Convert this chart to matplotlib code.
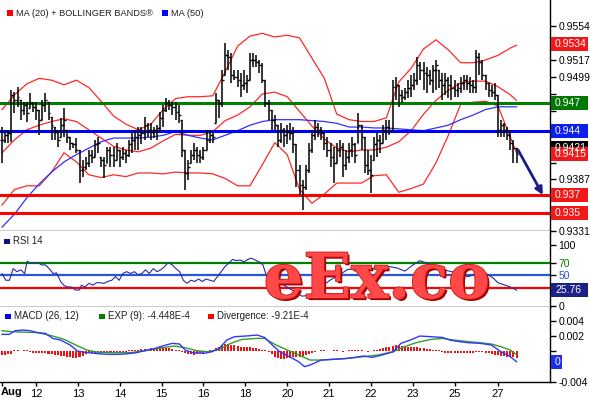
import numpy as np
import matplotlib
matplotlib.use('Agg')
import matplotlib.pyplot as plt
from matplotlib.patches import Rectangle
from matplotlib.transforms import IdentityTransform
import matplotlib.patheffects as pe

plt.rcParams['font.family'] = ['Liberation Sans', 'DejaVu Sans']

W, H = 590, 400

# 2h bars, prices in pips (x 1e-4)
highs = [9444, 9439, 9441, 9484, 9482, 9488, 9473, 9471, 9471, 9481,
         9471, 9471, 9463, 9473, 9481, 9471, 9455, 9444, 9441, 9454,
         9465, 9441, 9433, 9427, 9432, 9419, 9408, 9411, 9419, 9419,
         9430, 9433, 9411, 9411, 9422, 9422, 9422, 9427, 9419, 9422,
         9419, 9430, 9438, 9441, 9444, 9444, 9455, 9448, 9448, 9444,
         9446, 9460, 9468, 9476, 9473, 9471, 9471, 9468, 9452, 9419,
         9408, 9419, 9427, 9422, 9419, 9422, 9441, 9441, 9439, 9481,
         9473, 9506, 9535, 9528, 9525, 9506, 9506, 9503, 9506, 9501,
         9525, 9525, 9522, 9517, 9514, 9495, 9473, 9463, 9457, 9446,
         9448, 9443, 9446, 9448, 9444, 9425, 9403, 9386, 9403, 9427,
         9441, 9452, 9448, 9444, 9438, 9433, 9427, 9422, 9427, 9430,
         9427, 9419, 9427, 9433, 9427, 9459, 9446, 9433, 9419, 9414,
         9433, 9438, 9435, 9446, 9452, 9452, 9495, 9499, 9490, 9484,
         9487, 9495, 9501, 9503, 9520, 9515, 9515, 9509, 9506, 9512,
         9517, 9506, 9503, 9503, 9499, 9501, 9495, 9492, 9499, 9501,
         9501, 9498, 9495, 9528, 9525, 9517, 9501, 9492, 9490, 9492,
         9479, 9452, 9448, 9444, 9441, 9430, 9421]
lows = [9405, 9427, 9427, 9428, 9459, 9466, 9452, 9457, 9450, 9465,
        9460, 9452, 9435, 9452, 9460, 9452, 9430, 9430, 9422, 9433,
        9433, 9427, 9419, 9421, 9416, 9383, 9390, 9397, 9401, 9405,
        9411, 9416, 9401, 9389, 9405, 9401, 9401, 9408, 9401, 9408,
        9405, 9411, 9416, 9419, 9419, 9425, 9430, 9433, 9430, 9432,
        9430, 9438, 9444, 9460, 9463, 9457, 9452, 9448, 9411, 9375,
        9386, 9405, 9408, 9405, 9405, 9408, 9419, 9427, 9427, 9448,
        9454, 9466, 9501, 9506, 9492, 9495, 9488, 9477, 9484, 9481,
        9495, 9509, 9509, 9503, 9492, 9466, 9452, 9441, 9441, 9422,
        9427, 9422, 9425, 9430, 9416, 9379, 9370, 9354, 9375, 9394,
        9416, 9430, 9433, 9430, 9419, 9411, 9401, 9383, 9405, 9411,
        9390, 9397, 9405, 9411, 9405, 9427, 9419, 9394, 9392, 9372,
        9408, 9411, 9416, 9427, 9430, 9435, 9441, 9473, 9466, 9470,
        9473, 9476, 9477, 9484, 9490, 9495, 9484, 9481, 9490, 9481,
        9484, 9487, 9473, 9479, 9476, 9473, 9477, 9477, 9481, 9484,
        9484, 9481, 9481, 9481, 9501, 9495, 9484, 9477, 9477, 9473,
        9433, 9433, 9433, 9430, 9419, 9405, 9405]
closes = [9430, 9435, 9438, 9479, 9473, 9477, 9463, 9468, 9459, 9470,
          9466, 9463, 9452, 9468, 9473, 9459, 9446, 9439, 9430, 9446,
          9452, 9433, 9427, 9425, 9419, 9397, 9401, 9405, 9414, 9411,
          9425, 9427, 9408, 9403, 9419, 9414, 9408, 9419, 9411, 9416,
          9414, 9425, 9430, 9433, 9435, 9438, 9446, 9441, 9439, 9441,
          9443, 9454, 9463, 9470, 9468, 9466, 9460, 9457, 9419, 9394,
          9401, 9414, 9419, 9414, 9411, 9419, 9430, 9435, 9433, 9473,
          9470, 9495, 9522, 9520, 9501, 9499, 9495, 9490, 9492, 9495,
          9517, 9517, 9515, 9512, 9495, 9470, 9463, 9452, 9446, 9430,
          9441, 9435, 9439, 9438, 9425, 9397, 9381, 9379, 9397, 9419,
          9435, 9444, 9441, 9438, 9427, 9419, 9411, 9405, 9419, 9422,
          9403, 9411, 9419, 9425, 9414, 9446, 9433, 9403, 9397, 9392,
          9425, 9430, 9427, 9441, 9444, 9441, 9488, 9490, 9479, 9477,
          9482, 9487, 9490, 9495, 9512, 9506, 9503, 9501, 9495, 9506,
          9512, 9495, 9490, 9495, 9490, 9487, 9484, 9487, 9492, 9495,
          9492, 9490, 9488, 9520, 9515, 9501, 9492, 9484, 9482, 9479,
          9441, 9446, 9441, 9435, 9427, 9421, 9415]

# bollinger bands + MA(50), read every 4 bars
band_idx = list(range(0, 165, 4)) + [166]
upper = [9463, 9479, 9491, 9497, 9495, 9490, 9495, 9487, 9472, 9456,
         9447, 9441, 9447, 9463, 9475, 9477, 9477, 9478, 9504, 9532,
         9543, 9546, 9542, 9544, 9541, 9519, 9497, 9458, 9452, 9450,
         9450, 9454, 9493, 9508, 9529, 9539, 9528, 9514, 9514, 9517,
         9522, 9530, 9533]
middle = [9416, 9430, 9441, 9446, 9450, 9453, 9450, 9441, 9432, 9423,
          9419, 9417, 9421, 9429, 9436, 9435, 9435, 9439, 9451, 9457,
          9466, 9480, 9482, 9477, 9461, 9445, 9431, 9421, 9417, 9419,
          9419, 9422, 9428, 9440, 9458, 9473, 9484, 9492, 9494, 9494,
          9488, 9479, 9473]
lower = [9359, 9376, 9380, 9380, 9395, 9416, 9406, 9392, 9389, 9392,
         9390, 9394, 9394, 9393, 9395, 9394, 9394, 9393, 9388, 9380,
         9380, 9403, 9427, 9414, 9376, 9361, 9371, 9383, 9383, 9383,
         9391, 9392, 9373, 9377, 9382, 9405, 9435, 9469, 9471, 9472,
         9467, 9433, 9416]
ma50 = [9335, 9349, 9367, 9382, 9395, 9406, 9414, 9421, 9428, 9432,
        9432, 9432, 9433, 9435, 9439, 9435, 9432, 9430, 9435, 9440,
        9446, 9450, 9452, 9452, 9452, 9451, 9450, 9448, 9444, 9444,
        9443, 9443, 9442, 9441, 9440, 9443, 9446, 9452, 9457, 9463,
        9466, 9466, 9466]

price_ticks = [0.9331, 0.9350, 0.9368, 0.9387, 0.9405, 0.9424, 0.9443,
               0.9461, 0.9480, 0.9499, 0.9517, 0.9536, 0.9554]
price_shown = [0.9331, 0.9387, 0.9499, 0.9517, 0.9554]

rsi_idx = [0, 1.2, 2.4, 3.6, 4.8, 6.1, 7.3, 8.1, 9.1, 10.3,
           11.5, 12.8, 14, 15.2, 16.5, 17.6, 18.9, 20.1, 21.3, 22.5,
           23.7, 25, 25.6, 26.8, 28, 29.3, 30.5, 31.7, 32.9, 34.1,
           35.4, 36.6, 37.8, 39, 40.2, 41.5, 42.7, 43.9, 45.1, 46.3,
           47.5, 48.8, 50, 51.2, 52.4, 53.6, 54.9, 56.1, 57.3, 58.5,
           59.7, 61, 62.2, 63.4, 64.6, 65.8, 67.1, 68.3, 69.5, 70.7,
           71.9, 73.2, 74.4, 75.6, 76.8, 78.1, 79.3, 80.5, 81.7, 82.9,
           84.2, 85.2, 88.1, 91.3, 95.2, 96.8, 99.4, 102.6, 105.8, 109,
           111.3, 114.5, 117.7, 121, 124.2, 127.4, 130, 132.6, 134.8, 138.1,
           141.3, 145.2, 147.7, 150.6, 152.9, 156.1, 158.4, 160, 162.9, 164.5,
           166]
rsi_val = [53, 42, 42, 61, 56, 59, 53, 73, 70, 70,
           71, 67, 67, 61, 53, 54, 40, 33, 31, 31,
           26, 26, 34, 31, 37, 34, 38, 38, 37, 40,
           42, 48, 42, 53, 56, 53, 56, 51, 53, 59,
           53, 61, 56, 59, 64, 71, 67, 61, 56, 42,
           37, 42, 40, 44, 40, 44, 42, 40, 48, 56,
           64, 70, 76, 74, 75, 72, 76, 78, 75, 72,
           67, 51, 42, 33, 21, 16, 18, 30, 42, 51,
           59, 62, 58, 63, 65, 62, 57, 67, 74, 68,
           60, 56, 50, 48, 53, 53, 46, 38, 33, 30,
           25.76]

# MACD, in 1e-4
macd_idx = [0, 2.4, 4.2, 6.7, 9.1, 11.6, 14, 16.4, 18.9, 22,
            24.4, 26.8, 29.9, 32.3, 36, 39.6, 43.3, 46.9, 49.4, 51.8,
            54.9, 57.3, 59.1, 61.6, 65.2, 67.7, 70.1, 72.5, 75, 78.6,
            82.3, 84.7, 87.2, 89.6, 92.7, 95.7, 97.6, 99.4, 103, 106.7,
            110.4, 114, 116.5, 119.5, 122.6, 126.2, 128.7, 131.7, 134.8, 138.4,
            142.1, 144.5, 147.6, 150.6, 154.3, 157.9, 161, 164, 166]
macd_val = [22.1, 22.1, 26.9, 27.8, 26.9, 24.3, 23.4, 16.8, 14.6, 8.1,
            0.2, -1.5, -2.8, -3.7, -4.2, -3.7, -2.0, 1.5, 3.7, 6.8,
            10.3, 9.4, 1.5, -2.0, -2.8, -0.7, 3.7, 14.6, 19.0, 19.9,
            21.2, 18.1, 8.1, -0.7, -7.2, -13.8, -20.3, -18.1, -11.6, -10.7,
            -9.8, -8.1, -6.3, -8.1, -5.0, -0.7, 10.3, 14.6, 19.9, 19.0,
            18.1, 14.6, 12.5, 11.1, 10.3, 8.1, -0.7, -7.2, -13.8]
exp_idx = [0, 3, 6.7, 11.6, 16.4, 20.1, 23.8, 27.4, 31.1, 36,
           40.8, 45.7, 50.6, 55.5, 59.1, 62.8, 66.5, 70.1, 73.8, 77.4,
           82.3, 84.7, 88.4, 92.1, 95.7, 99.4, 103, 106.7, 111.6, 116.5,
           121.3, 126.2, 129.9, 133.5, 138.4, 142.1, 145.8, 150.6, 154.3, 157.9,
           161, 164, 166]
exp_val = [26.9, 25.6, 25.1, 24.3, 19.9, 15.5, 8.1, 1.5, -1.5, -2.0,
           -2.0, 0.2, 3.7, 6.8, 4.6, 0.7, -0.7, 2.4, 10.3, 15.5,
           16.8, 16.8, 8.1, 1.5, -5.0, -11.6, -11.6, -10.7, -9.4, -7.2,
           -5.0, -0.7, 5.9, 11.1, 15.5, 16.8, 14.6, 12.5, 11.1, 9.4,
           5.9, 1.5, -4.4]
divergence = [-5, -5, -4, -4, 1, 1, 0, 1, 1, -1,
              -2, -2, -3, -3, -3, -4, -4, -5, -5, -6,
              -6, -7, -8, -9, -9, -8, -6, -4, -3, -3,
              -3, -2, -2, -3, -2, -2, -2, -1, -2, -1,
              -1, 1, 1, 2, 2, 3, 3, 3, 4, 4,
              4, 5, 5, 4, 4, 3, 2, 1, -1, -3,
              -4, -4, -5, -4, -3, -2, -1, 1, 2, 4,
              6, 8, 9, 9, 8, 8, 7, 6, 6, 5,
              5, 4, 4, 3, 2, 1, -1, -4, -7, -9,
              -10, -10, -9, -9, -8, -7, -7, -6, -5, -4,
              -3, -1, 0, 1, 1, 0, 0, 1, 1, 0,
              -1, 0, 1, 1, 1, 2, 1, 0, -1, 0,
              1, 2, 3, 4, 5, 6, 7, 8, 8, 7,
              7, 6, 6, 5, 5, 4, 4, 3, 3, 2,
              2, 1, -1, -2, -2, -2, -2, -2, -3, -2,
              -2, -2, -2, -1, -1, -1, -2, -3, -4, -5,
              -5, -6, -6, -7, -8, -8, -9.2]

day_pos = [11, 24.5, 38, 51.5, 65, 78.5, 92, 105.5, 119, 132.5, 146, 160]
day_labels = ['12', '13', '14', '15', '16', '18', '20', '21', '22', '23', '25', '27']

levels = [(0.9470, '#008000'), (0.9440, '#0000ff'), (0.9370, '#ff0000'), (0.9350, '#ff0000')]
arrow_from, arrow_to = 0.9419, 0.9370

hi = np.array(highs) / 1e4
lo = np.array(lows) / 1e4
cl = np.array(closes) / 1e4
op = np.clip(np.r_[cl[0], cl[:-1]], lo, hi)
n = len(cl)
idx = np.arange(n)

fig = plt.figure(figsize=(W / 100, H / 100), dpi=100)
ax1 = fig.add_axes([0, 1 - 231 / H, 550 / W, 231 / H])
ax2 = fig.add_axes([0, 1 - 307 / H, 550 / W, 76 / H])
ax3 = fig.add_axes([0, 1 - 382 / H, 550 / W, 75 / H])

for ax in (ax1, ax2, ax3):
    ax.set_xlim(-0.65, 176.8)
    for s in ('top', 'left'):
        ax.spines[s].set_visible(False)
    for s in ('right', 'bottom'):
        ax.spines[s].set_linewidth(1)
    ax.yaxis.tick_right()
    ax.tick_params(axis='y', direction='out', length=4, width=1, pad=2, labelsize=7.5)
    ax.tick_params(axis='x', bottom=False, labelbottom=False)

# ---- price panel
ax1.set_ylim(0.93308, 0.95823)
ax1.plot(band_idx, np.array(upper) / 1e4, color='#ff2828', lw=0.9, zorder=2)
ax1.plot(band_idx, np.array(middle) / 1e4, color='#ff2828', lw=0.9, zorder=2)
ax1.plot(band_idx, np.array(lower) / 1e4, color='#ff2828', lw=0.9, zorder=2)
ax1.plot(band_idx, np.array(ma50) / 1e4, color='#3030ff', lw=0.9, zorder=2)
for v, c in levels:
    ax1.axhline(v, color=c, lw=2.2, zorder=3)
ax1.vlines(idx, lo, hi, color='black', lw=1.1, zorder=4)
ax1.hlines(op, idx - 0.6, idx, color='black', lw=1, zorder=4)
ax1.hlines(cl, idx, idx + 0.6, color='black', lw=1, zorder=4)
ax1.annotate('', xy=(n - 1 + 8.5, arrow_to), xytext=(n - 1 + 0.5, arrow_from),
             arrowprops=dict(arrowstyle='-|>', color='#1c1c8a', lw=2, mutation_scale=11,
                             shrinkA=0, shrinkB=0), annotation_clip=False, zorder=6)
ax1.set_yticks(price_ticks)
ax1.set_yticklabels([f'{t:.4f}' if t in price_shown else '' for t in price_ticks])

# ---- RSI panel
ax2.set_ylim(-1.6, 122.3)
ax2.axhline(70, color='#008000', lw=1.6)
ax2.axhline(50, color='#2858d8', lw=1.6)
ax2.axhline(30, color='#ff0000', lw=1.6)
ax2.plot(rsi_idx, rsi_val, color='#2a2aa8', lw=0.8)
ax2.set_yticks([0, 30, 50, 70, 100])
ax2.set_yticklabels(['0', '30', '50', '70', '100'])
for lab, c in zip(ax2.get_yticklabels(), ['black', '#ff0000', '#2858d8', '#008000', 'black']):
    lab.set_color(c)

# ---- MACD panel
ax3.set_ylim(-0.00404, 0.0058)
ax3.bar(idx, np.array(divergence) / 1e4, width=0.65, color='#ee1111', zorder=2)
ax3.plot(exp_idx, np.array(exp_val) / 1e4, color='#2e9e2e', lw=1, zorder=3)
ax3.plot(macd_idx, np.array(macd_val) / 1e4, color='#3535ff', lw=1, zorder=4)
ax3.set_yticks([-0.004, -0.002, 0, 0.002, 0.004])
ax3.set_yticklabels(['-0.004', '', '', '0.002', '0.004'])
ax3.tick_params(axis='x', bottom=True, labelbottom=True, direction='out', length=3,
                width=1, labelsize=8, pad=2)
ax3.set_xticks([0] + day_pos)
ax3.set_xticklabels([''] + day_labels)
fig.text(1 / W, 1 - 392 / H, 'Aug', fontsize=8, fontweight='bold', va='center', ha='left')


def tag(ax, val, text, fc, w=37, tc='white'):
    _, py = ax.transData.transform((0, val))
    x0 = ax.transAxes.transform((1, 0))[0] + 1
    fig.add_artist(Rectangle((x0, py - 7), w, 14, transform=IdentityTransform(),
                             fc=fc, ec='none', zorder=5))
    fig.text((x0 + 4) / W, py / H, text, color=tc, va='center', ha='left',
             fontsize=7.5, zorder=6)


tag(ax1, 0.9534, '0.9534', '#f01818')
tag(ax1, 0.9470, '0.947', '#007800')
tag(ax1, 0.9440, '0.944', '#0a1ef0')
tag(ax1, 0.9421, '0.9421', '#000000')
tag(ax1, 0.9415, '0.9415', '#f01818')
tag(ax1, 0.9370, '0.937', '#f01818')
tag(ax1, 0.9350, '0.935', '#f01818')
tag(ax2, rsi_val[-1], '25.76', '#1a2288')
tag(ax3, macd_val[-1] / 1e4, '0', '#1e2ef0', w=11)


def legend(px, py, color, text, size=7):
    fig.add_artist(Rectangle((px / W, 1 - (py + 3) / H), 5.5 / W, 5.5 / H,
                             transform=fig.transFigure, fc=color, ec='none'))
    fig.text((px + 9) / W, 1 - py / H, text, fontsize=size, va='center', ha='left',
             color='#202020')


legend(7, 13, '#ff0000', 'MA (20) + BOLLINGER BANDS\u00ae', size=6.7)
legend(162, 13, '#0000ff', 'MA (50)', size=6.7)
legend(4, 241, '#101080', 'RSI 14')
legend(5, 316, '#0000ff', 'MACD (26, 12)')
legend(99, 316, '#008000', 'EXP (9): -4.448E-4')
legend(208, 316, '#ff0000', 'Divergence: -9.21E-4')

# watermark
fig.text(377 / W, 1 - 298 / H, 'eEx.co', fontsize=45, fontweight='bold',
         family='DejaVu Serif', color='#ff4848', ha='center', va='baseline', zorder=10,
         path_effects=[pe.SimplePatchShadow(offset=(1.5, -1.5), shadow_rgbFace='#a00000', alpha=1),
                       pe.Stroke(linewidth=1.2, foreground='#d01818'), pe.Normal()])

fig.savefig('out.png', dpi=100, facecolor='white')
